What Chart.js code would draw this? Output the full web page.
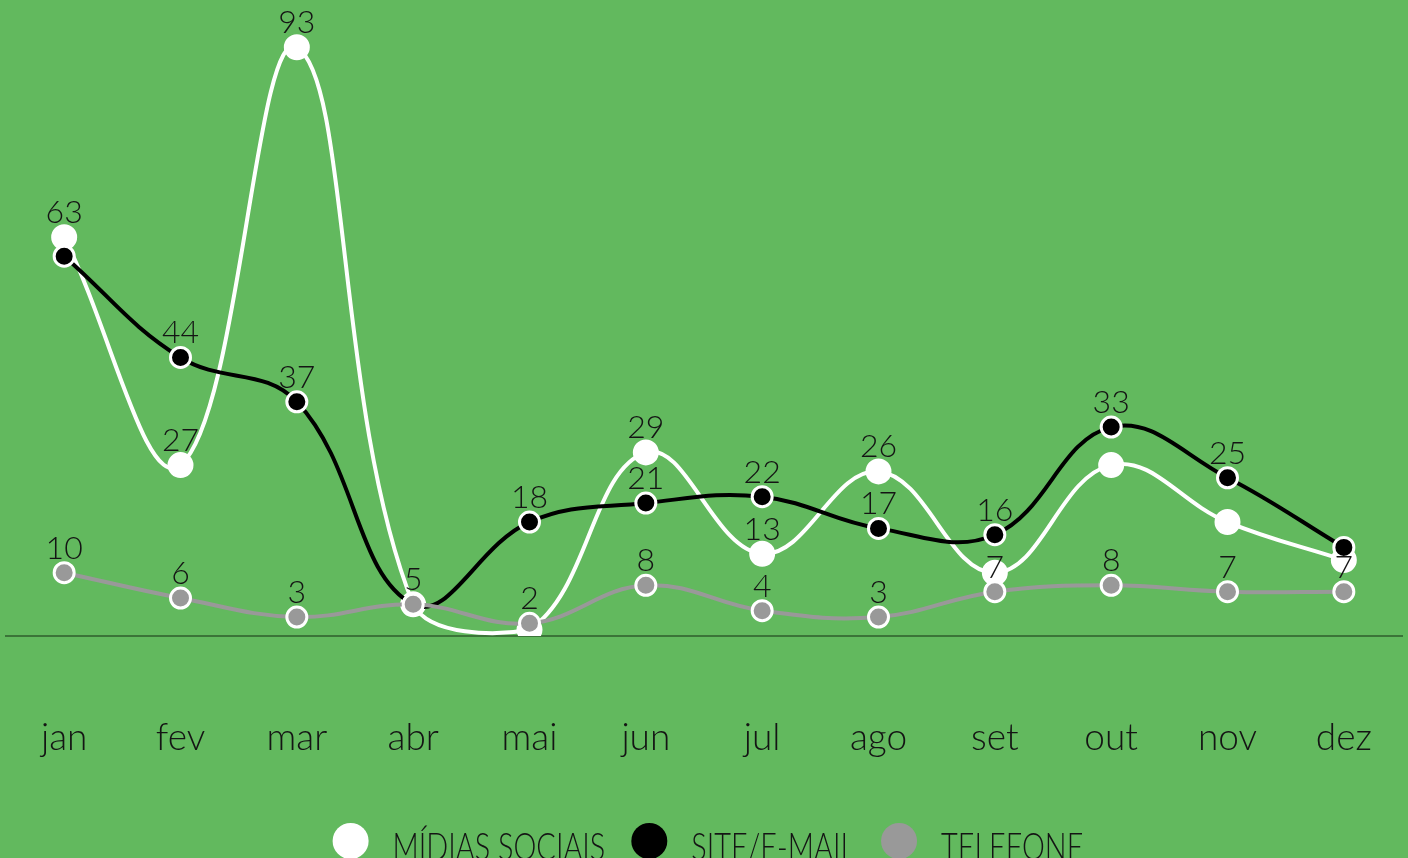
<!DOCTYPE html>
<html>
<head>
<meta charset="utf-8">
<script src="https://cdn.jsdelivr.net/npm/chart.js@4.4.0/dist/chart.umd.min.js"></script>
<style>
  html, body { margin: 0; padding: 0; background: #62b95e; overflow: hidden; }
  #wrap { width: 1408px; height: 858px; position: relative; }
</style>
</head>
<body>
<div id="wrap"><canvas id="leadsChart"></canvas></div>
<script>
// meses
const months = ["jan", "fev", "mar", "abr", "mai", "jun", "jul", "ago", "set", "out", "nov", "dez"];

// valores
const midiasSociais = [63, 27, 93, 5, 1, 29, 13, 26, 10, 27, 18, 12];
const siteEmail = [60, 44, 37, 5, 18, 21, 22, 17, 16, 33, 25, 14];
const telefone = [10, 6, 3, 5, 2, 8, 4, 3, 7, 8, 7, 7];

// quais rótulos aparecem (os outros ficam escondidos por sobreposição)
const showMidias = [1, 1, 1, 0, 0, 1, 1, 1, 0, 0, 0, 0];
const showSite = [0, 1, 1, 1, 1, 1, 1, 1, 1, 1, 1, 0];
const showTelefone = [1, 1, 1, 0, 1, 1, 1, 1, 1, 1, 1, 1];
const shownLabels = [showMidias, showSite, showTelefone];

const FONT = "Lato, 'Open Sans', sans-serif";

// desenha os números em cima dos pontos
const valueLabels = {
  id: "valueLabels",
  afterDatasetsDraw(chart) {
    const ctx = chart.ctx;
    ctx.save();
    ctx.font = "300 32px " + FONT;
    ctx.fillStyle = "#141414";
    ctx.textAlign = "center";
    ctx.textBaseline = "alphabetic";
    chart.data.datasets.forEach((ds, d) => {
      const meta = chart.getDatasetMeta(d);
      meta.data.forEach((pt, i) => {
        if (!shownLabels[d][i]) return;
        ctx.fillText(ds.data[i], pt.x, pt.y - 14);
      });
    });
    ctx.restore();
  },
};

// legenda embaixo, com texto estreito (condensado)
const squeezedLegend = {
  id: "squeezedLegend",
  afterDraw(chart) {
    const ctx = chart.ctx;
    const squeeze = 0.76;
    const dot = 36;
    const gapText = 24;
    const gapItem = 26;
    const cy = 841;
    ctx.save();
    ctx.font = "300 38px " + FONT;
    ctx.textBaseline = "alphabetic";
    const items = chart.data.datasets.map((ds) => ({
      text: ds.label,
      color: ds.pointBackgroundColor,
      w: ctx.measureText(ds.label).width * squeeze,
    }));
    let total = 0;
    items.forEach((it, i) => {
      total += dot + gapText + it.w + (i < items.length - 1 ? gapItem : 0);
    });
    let x = chart.width / 2 + 4 - total / 2;
    items.forEach((it) => {
      ctx.fillStyle = it.color;
      ctx.beginPath();
      ctx.arc(x + dot / 2, cy, dot / 2, 0, Math.PI * 2);
      ctx.fill();
      x += dot + gapText;
      ctx.fillStyle = "#141414";
      ctx.save();
      ctx.translate(x, 860);
      ctx.scale(squeeze, 1);
      ctx.fillText(it.text, 0, 0);
      ctx.restore();
      x += it.w + gapItem;
    });
    ctx.restore();
  },
};

function lineDataset(label, data, color, radius, order) {
  return {
    label: label,
    data: data,
    borderColor: color,
    backgroundColor: color,
    borderWidth: 4,
    tension: 0.4,
    pointRadius: radius,
    pointHoverRadius: radius,
    pointBackgroundColor: color,
    pointBorderColor: "#ffffff",
    pointBorderWidth: 3,
    order: order,
  };
}

new Chart(document.getElementById("leadsChart"), {
  type: "line",
  data: {
    labels: months,
    datasets: [
      lineDataset("MÍDIAS SOCIAIS", midiasSociais, "#ffffff", 11.5, 3),
      lineDataset("SITE/E-MAIL", siteEmail, "#000000", 10, 2),
      lineDataset("TELEFONE", telefone, "#999999", 10, 1),
    ],
  },
  options: {
    responsive: true,
    maintainAspectRatio: false,
    animation: false,
    layout: { autoPadding: false, padding: { left: 6, right: 6, top: 3, bottom: 41 } },
    scales: {
      y: { display: false, min: 0, max: 100 },
      x: {
        offset: true,
        grid: { display: true, color: "transparent", drawTicks: false },
        border: { display: true, color: "#3b7438", width: 2 },
        ticks: {
          padding: 80,
          color: "#141414",
          font: { family: FONT, size: 37, weight: "300" },
        },
        afterFit: (scale) => {
          scale.height = 181;
          scale.paddingLeft = 0;
          scale.paddingRight = 0;
        },
      },
    },
    plugins: {
      tooltip: { enabled: false },
      legend: { display: false },
    },
  },
  plugins: [valueLabels, squeezedLegend],
});
</script>
</body>
</html>
